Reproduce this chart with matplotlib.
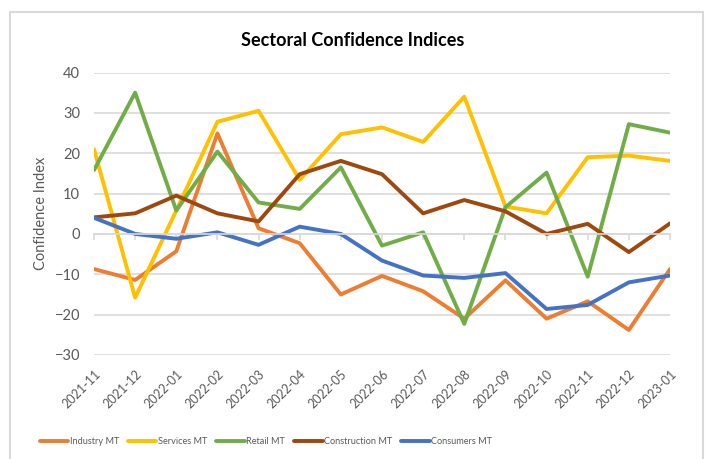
import numpy as np
import matplotlib
matplotlib.use('Agg')
from matplotlib import pyplot as plt
from matplotlib.patches import Rectangle

plt.rcParams['font.family'] = ['Lato', 'DejaVu Sans']

months = ['2021-11', '2021-12', '2022-01', '2022-02', '2022-03', '2022-04', '2022-05',
          '2022-06', '2022-07', '2022-08', '2022-09', '2022-10', '2022-11', '2022-12', '2023-01']

industry = [-8.7, -11.4, -4.3, 24.9, 1.4, -2.3, -15.0, -10.4, -14.2, -21.0, -11.5, -21.0, -16.7, -23.8, -8.7]
services = [21.0, -15.8, 5.8, 27.8, 30.5, 13.4, 24.7, 26.4, 22.8, 34.0, 6.8, 5.1, 19.0, 19.4, 18.1]
retail = [15.8, 35.0, 5.8, 20.4, 7.8, 6.2, 16.5, -2.9, 0.4, -22.3, 6.6, 15.2, -10.6, 27.2, 25.1]
construction = [4.1, 5.1, 9.5, 5.1, 3.1, 14.8, 18.1, 14.8, 5.1, 8.4, 5.6, 0.0, 2.5, -4.5, 2.6]
consumers = [4.0, 0.0, -1.2, 0.4, -2.7, 1.8, 0.0, -6.6, -10.3, -10.9, -9.7, -18.6, -17.6, -12.0, -10.3]

series_names = ['Industry MT', 'Services MT', 'Retail MT', 'Construction MT', 'Consumers MT']
series_colors = ['#ED7D31', '#FFC000', '#70AD47', '#9E480E', '#4472C4']

txt = '#595959'
grid = '#d9d9d9'

fig = plt.figure(figsize=(7.05, 4.59), dpi=100)
ax = fig.add_axes([94/705, 1-355/459, (670-94)/705, (355-72.5)/459])

x = np.arange(len(months))
for vals, name, col in zip([industry, services, retail, construction, consumers], series_names, series_colors):
    ax.plot(x, vals, color=col, lw=2.8, label=name, solid_capstyle='round', solid_joinstyle='round')

ax.set_xlim(0, len(months)-1)
ax.set_ylim(-30, 40)
ax.set_yticks(range(-30, 41, 10))
ax.yaxis.grid(True, color=grid, lw=1.2)
ax.set_axisbelow(True)
for s in ['top', 'right', 'left']:
    ax.spines[s].set_visible(False)
# category axis crosses at zero, labels stay at the bottom
ax.spines['bottom'].set_position(('data', 0))
ax.spines['bottom'].set_color(grid)
ax.spines['bottom'].set_linewidth(1.2)
ax.set_xticks(x)
ax.tick_params(axis='x', direction='out', length=4, color=grid, width=1.2, labelbottom=False)
ax.tick_params(axis='y', length=0, labelsize=10.5, labelcolor=txt, pad=10)

sec = ax.secondary_xaxis('bottom')
sec.set_xticks(x)
sec.set_xticklabels(months, rotation=45, ha='right', rotation_mode='anchor', fontsize=9, color=txt)
sec.tick_params(length=0, pad=9)
sec.spines['bottom'].set_visible(False)

ax.set_ylabel('Confidence Index', color=txt, fontsize=10.5)
ax.yaxis.set_label_coords(-0.08, 0.5)

fig.text(0.5, 1-40/459, 'Sectoral Confidence Indices', ha='center', va='center',
         fontsize=13, fontweight='bold', color='black')

leg = fig.legend(loc='center', bbox_to_anchor=(266/705, 1-442/459), ncol=5, frameon=False,
                 fontsize=6.6, handlelength=3.1, handletextpad=0.15, columnspacing=1.0)
for t in leg.get_texts():
    t.set_color(txt)

fig.patches.append(Rectangle((10/705, -0.02), (703-10)/705, 1-12/459+0.02, transform=fig.transFigure,
                             fill=False, edgecolor=grid, lw=1.5))

plt.savefig('out.png', dpi=100)
